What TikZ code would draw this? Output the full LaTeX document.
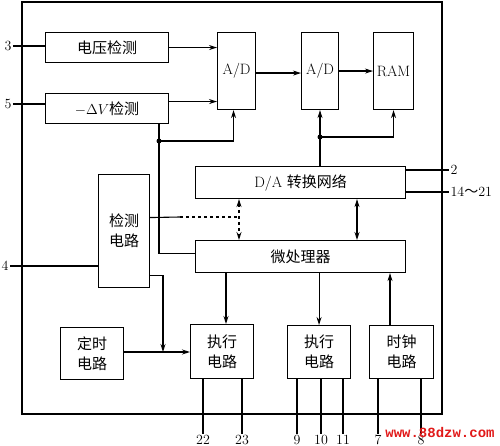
\documentclass[tikz,border=0pt]{standalone}
\usepackage{fontspec}
\newfontfamily\cjk{Noto Sans CJK SC}
\newfontfamily\wmfont{Liberation Mono}
\usetikzlibrary{arrows.meta}
\definecolor{wmred}{RGB}{225,25,25}
\begin{document}
\begin{tikzpicture}[x=1pt,y=-1pt, line width=1.1pt,
  box/.style={draw, inner sep=0pt, anchor=north west, align=center, font=\fontsize{15}{20}\selectfont},
  arr/.style={-{Stealth[length=8pt,width=5pt]}},
  darr/.style={{Stealth[length=8pt,width=5pt]}-{Stealth[length=8pt,width=5pt]}},
  dot/.style={circle, fill, inner sep=0pt, minimum size=5pt},
  lbl/.style={font=\fontsize{14}{16}\selectfont, inner sep=1pt}]
\useasboundingbox (0,0) rectangle (500,446);
% outer frame
\draw (22,2) rectangle (442,414);
% boxes
\node[box, minimum width=123pt, minimum height=30pt] (volt) at (45,32) {\cjk 电压检测};
\node[box, minimum width=123pt, minimum height=30pt] (dv) at (45,93) {$-\Delta V${\cjk 检测}};
\node[box, minimum width=38pt, minimum height=77pt] (ad1) at (217,32) {A/D};
\node[box, minimum width=37pt, minimum height=77pt] (ad2) at (301,32) {A/D};
\node[box, minimum width=40pt, minimum height=77pt] (ram) at (373,32) {RAM};
\node[box, minimum width=210pt, minimum height=32pt] (da) at (195,166) {D/A {\cjk 转换网络}};
\node[box, minimum width=210pt, minimum height=32pt] (mp) at (195,240) {\cjk 微处理器};
\node[box, minimum width=51pt, minimum height=113pt] (det) at (98,174) {\cjk 检测\\\cjk 电路};
\node[box, minimum width=63pt, minimum height=52pt] (timer) at (60,327) {\cjk 定时\\\cjk 电路};
\node[box, minimum width=63pt, minimum height=54pt] (ex1) at (190,324) {\cjk 执行\\\cjk 电路};
\node[box, minimum width=63pt, minimum height=53pt] (ex2) at (287,325) {\cjk 执行\\\cjk 电路};
\node[box, minimum width=64pt, minimum height=53pt] (clk) at (369,325) {\cjk 时钟\\\cjk 电路};
% helper coordinates
\coordinate (j1) at (159,141);
\coordinate (j2) at (320,137);
\coordinate (j3) at (163,352);
\coordinate (k1) at (180,217);
\coordinate (k2) at (239,217);
\coordinate (x357) at (357,0);
\coordinate (x239) at (239,0);
\coordinate (x226) at (226,0);
\coordinate (x390) at (390,0);
% top connectors
\draw[arr] (volt.east) -- (volt.east -| ad1.west);
\draw[arr] ([yshift=7pt]dv.east) -- ([yshift=7pt]dv.east -| ad1.west);
\draw[arr] ([yshift=-2pt]ad1.east) -- ([yshift=-2pt]ad1.east -| ad2.west);
\draw[arr] (ad2.east) -- (ad2.east -| ram.west);
\draw (dv.south -| j1) -- (j1);
\draw[arr] (j1) -| ([xshift=-3pt]ad1.south);
\draw (j1) |- ([yshift=3pt]mp.west);
\node[dot] at (j1) {};
\draw[arr] (da.north -| j2) -- (ad2.south -| j2);
\draw[arr] (j2) -| (ram.south);
\node[dot] at (j2) {};
% D/A <-> uP
\draw[darr] (da.south -| x357) -- (mp.north -| x357);
\draw[darr, dashed] (da.south -| x239) -- (mp.north -| x239);
\draw ([yshift=13.5pt]det.east) -- (k1);
\draw[dashed] (k1) -- (k2);
% detection to execution
\draw[arr] ([yshift=-44.5pt]det.east) -| (j3);
\draw[arr] (timer.east |- j3) -- (ex1.west |- j3);
\draw[arr] (mp.south -| x226) -- (ex1.north -| x226);
\draw[arr] (mp.south -| ex2.north) -- (ex2.north);
\draw[arr] (clk.north -| x390) -- (mp.south -| x390);
% left pins
\node[lbl] (p3) at (8,46) {3};
\node[lbl] (p5) at (8,104) {5};
\node[lbl] (p4) at (5,266) {4};
\draw (p3.east) -- (p3.east -| volt.west);
\draw (p5.east) -- (p5.east -| dv.west);
\draw (p4.east) -- (p4.east -| det.west);
% right pins
\node[lbl, anchor=west] (p2) at (449,170) {2};
\node[lbl, anchor=west] (p14) at (449,192) {14{\cjk ～}21};
\draw (p2.west -| da.east) -- (p2.west);
\draw (p14.west -| da.east) -- (p14.west);
% bottom pins
\node[lbl] (p22) at (203,440) {22};
\node[lbl] (p23) at (242,440) {23};
\node[lbl] (p9) at (297,440) {9};
\node[lbl] (p10) at (321,440) {10};
\node[lbl] (p11) at (343,440) {11};
\node[lbl] (p7) at (378,440) {7};
\node[lbl] (p8) at (421,440) {8};
\draw (ex1.south -| p22) -- (p22.north);
\draw (ex1.south -| p23) -- (p23.north);
\draw (ex2.south -| p9) -- (p9.north);
\draw (ex2.south -| p10) -- (p10.north);
\draw (ex2.south -| p11) -- (p11.north);
\draw (clk.south -| p7) -- (p7.north);
\draw (clk.south -| p8) -- (p8.north);
% watermark
\node[text=wmred, font=\wmfont\bfseries\fontsize{14}{16}\selectfont] (wm) at (440,432) {www.88dzw.com};
\end{tikzpicture}
\end{document}
